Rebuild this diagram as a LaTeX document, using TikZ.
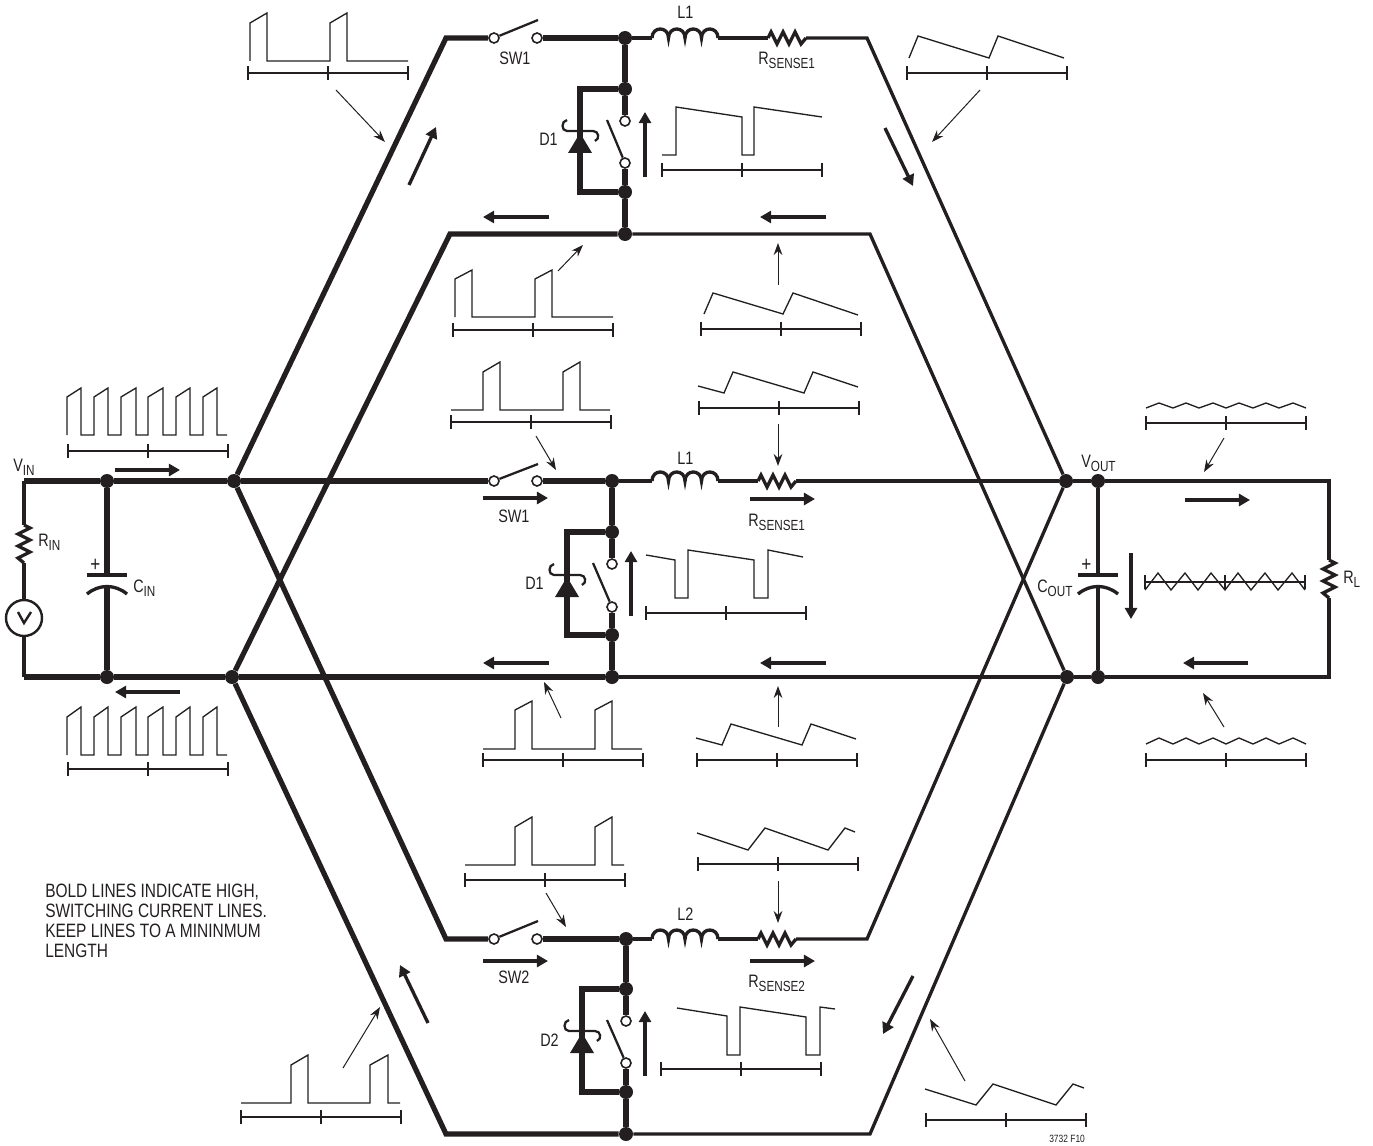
\documentclass[tikz,border=0pt]{standalone}
\usepackage{fontspec}
\setmainfont[FakeStretch=0.8]{Liberation Sans}
\usetikzlibrary{arrows.meta}
\definecolor{ink}{HTML}{231F20}
\tikzstyle{bold} = [line width=3.9pt]
\tikzstyle{wire} = [line width=2.5pt]
\tikzstyle{arm} = [line width=1.7pt]
\tikzstyle{trace} = [line width=1pt]
\tikzstyle{scalebar} = [line width=.9pt]
\tikzstyle{jct} = [circle, fill=ink, inner sep=0pt, minimum size=10.5pt]
\tikzstyle{term} = [circle, draw=ink, fill=white, line width=1.2pt, inner sep=0pt, minimum size=7.5pt]
\tikzstyle{flowline} = [line width=2.5pt, -{Triangle[length=8.3pt,width=9pt]}]
\tikzstyle{leadline} = [line width=.75pt, -{Stealth[length=9pt,width=6.5pt]}]
\tikzstyle{lbl} = [anchor=base west, inner sep=0pt, font={\fontsize{13.5}{15}\selectfont}]
\newcommand{\lowsub}[2]{#1\raisebox{-3pt}{\fontsize{11}{12}\selectfont #2}}
\newcommand{\scopetrace}[3]{
  \begin{scope}[shift={(#1,#2)}]
    \draw[scalebar] (0,-7)--(0,7) (80,-7)--(80,7) (160,-7)--(160,7) (0,0)--(160,0);
    \draw[trace] #3;
  \end{scope}}
\newcommand{\flowarrow}[3]{
  \coordinate (#1a) at (#2);
  \coordinate (#1b) at (#3);
  \draw[flowline] (#1a)--(#1b);}
\newcommand{\leadarrow}[3]{
  \coordinate (#1a) at (#2);
  \coordinate (#1b) at (#3);
  \draw[leadline] (#1a)--(#1b);}
\newcommand{\inductor}[3]{
  \begin{scope}[shift={(#2,#3)}]
    \coordinate (#1a) at (0,0);
    \coordinate (#1b) at (66,0);
    \draw[wire] (0,0) .. controls (0,-12) and (16.5,-12) .. (16.5,0)
      .. controls (16.5,-12) and (33,-12) .. (33,0)
      .. controls (33,-12) and (49.5,-12) .. (49.5,0)
      .. controls (49.5,-12) and (66,-12) .. (66,0);
  \end{scope}}
\newcommand{\resistor}[3]{
  \begin{scope}[shift={(#2,#3)}]
    \coordinate (#1a) at (0,0);
    \coordinate (#1b) at (38,0);
    \draw[wire] (0,0)--(3,-6)--(9,6)--(15,-6)--(21,6)--(27,-6)--(33,6)--(38,0);
  \end{scope}}
\newcommand{\vresistor}[3]{
  \begin{scope}[shift={(#2,#3)}]
    \coordinate (#1a) at (0,0);
    \coordinate (#1b) at (0,38);
    \draw[wire] (0,0)--(6,3)--(-6,9)--(6,15)--(-6,21)--(6,27)--(-6,33)--(0,38);
  \end{scope}}
\newcommand{\diode}[2]{
  \begin{scope}[shift={(#1,#2)}]
    \fill (0,0)--(12,20)--(-12,20)--cycle;
    \draw[arm] (-13,-13) .. controls (-19,-12) and (-19,-2) .. (-13,-2)--(13,-2)
      .. controls (19,-2) and (20,6) .. (15,8);
  \end{scope}}
\newcommand{\capacitor}[3]{
  \begin{scope}[shift={(#2,#3)}]
    \coordinate (#1a) at (0,0);
    \coordinate (#1b) at (0,11.5);
    \draw[wire] (-20,0)--(20,0);
    \draw[wire] (-20,19) .. controls (-8,9) and (8,9) .. (20,19);
  \end{scope}}
\begin{document}
\begin{tikzpicture}[x=.75pt,y=-.75pt,color=ink]
  \useasboundingbox (0,0) rectangle (1373,1145);
  \node[jct](n1) at (234,481){};
  \node[jct](n2) at (232,677){};
  \node[jct](n3) at (1066,481){};
  \node[jct](n4) at (1067,677){};
  \node[jct](j1) at (625,38){};
  \node[jct](j2) at (625,89){};
  \node[jct](j3) at (625,192){};
  \node[jct](j4) at (625,234){};
  \node[jct](j5) at (612,481){};
  \node[jct](j6) at (612,532){};
  \node[jct](j7) at (612,635){};
  \node[jct](j8) at (612,677){};
  \node[jct](j9) at (626,939){};
  \node[jct](j10) at (626,989){};
  \node[jct](j11) at (626,1092){};
  \node[jct](j12) at (626,1134){};
  \node[jct](j13) at (107,481){};
  \node[jct](j14) at (107,677){};
  \node[jct](j15) at (1098,481){};
  \node[jct](j16) at (1098,677){};
  \node[term](s1a) at (494,38){};
  \node[term](s1b) at (537,38){};
  \node[term](s1c) at (625,121){};
  \node[term](s1d) at (625,163){};
  \node[term](s2a) at (494,481){};
  \node[term](s2b) at (537,481){};
  \node[term](s2c) at (612,564){};
  \node[term](s2d) at (612,607){};
  \node[term](s3a) at (494,939){};
  \node[term](s3b) at (537,939){};
  \node[term](s3c) at (626,1021){};
  \node[term](s3d) at (626,1063){};
  \node[circle,draw=ink,line width=1.8pt,inner sep=0pt,minimum size=27pt](vs) at (24,618){};
  \coordinate (c0) at (24,481);
  \coordinate (c1) at (24,677);
  \coordinate (c2) at (446,38);
  \coordinate (c3) at (867,38);
  \coordinate (c4) at (450,234);
  \coordinate (c5) at (870,234);
  \coordinate (c6) at (446,939);
  \coordinate (c7) at (867,939);
  \coordinate (c8) at (446,1134);
  \coordinate (c9) at (870,1134);
  \coordinate (c10) at (1329,481);
  \coordinate (c11) at (1329,677);
  \coordinate (d1a) at (580,89);
  \coordinate (d1b) at (580,192);
  \coordinate (d2a) at (567,532);
  \coordinate (d2b) at (567,635);
  \coordinate (d3a) at (582,989);
  \coordinate (d3b) at (582,1092);
  \coordinate (t1) at (538,20);
  \coordinate (t2) at (607,120);
  \coordinate (t3) at (538,464);
  \coordinate (t4) at (593,563);
  \coordinate (t5) at (538,921);
  \coordinate (t6) at (607,1020);
  \inductor{l1}{652}{38}
  \inductor{l2}{652}{481}
  \inductor{l3}{652}{939}
  \resistor{r1}{768}{38}
  \resistor{r2}{758}{481}
  \resistor{r3}{758}{939}
  \vresistor{rin}{24}{525}
  \vresistor{rl}{1329}{560}
  \capacitor{cin}{107}{575}
  \capacitor{cout}{1098}{575}
  \diode{580}{133}
  \diode{567}{577}
  \diode{582}{1033}
  \draw[bold] (n1)--(c2)--(s1a);
  \draw[bold] (s1b)--(j1);
  \draw[bold] (j1)--(j2);
  \draw[bold] (j2)--(s1c);
  \draw[bold] (s1d)--(j3);
  \draw[bold] (j3)--(j4);
  \draw[bold] (j2)--(d1a)--(d1b)--(j3);
  \draw[bold] (n2)--(c4)--(j4);
  \draw[wire] (j1)--(l1a);
  \draw[wire] (l1b)--(r1a);
  \draw[wire] (r1b)--(c3)--(n3);
  \draw[wire] (j4)--(c5)--(n4);
  \draw[bold] (c0)--(j13);
  \draw[bold] (j13)--(n1);
  \draw[bold] (n1)--(s2a);
  \draw[bold] (s2b)--(j5);
  \draw[bold] (j5)--(j6);
  \draw[bold] (j6)--(s2c);
  \draw[bold] (s2d)--(j7);
  \draw[bold] (j7)--(j8);
  \draw[bold] (j6)--(d2a)--(d2b)--(j7);
  \draw[bold] (c1)--(j14);
  \draw[bold] (j14)--(n2);
  \draw[bold] (n2)--(j8);
  \draw[wire] (j5)--(l2a);
  \draw[wire] (l2b)--(r2a);
  \draw[wire] (r2b)--(n3);
  \draw[wire] (j8)--(n4);
  \draw[wire] (n3)--(j15);
  \draw[wire] (n4)--(j16);
  \draw[wire] (j15)--(c10)--(rla);
  \draw[wire] (rlb)--(c11)--(j16);
  \draw[wire] (j15)--(couta);
  \draw[wire] (coutb)--(j16);
  \draw[bold] (j13)--(cina);
  \draw[bold] (cinb)--(j14);
  \draw[wire] (c0)--(rina);
  \draw[wire] (rinb)--(vs);
  \draw[wire] (vs)--(c1);
  \draw[bold] (n1)--(c6)--(s3a);
  \draw[bold] (s3b)--(j9);
  \draw[bold] (j9)--(j10);
  \draw[bold] (j10)--(s3c);
  \draw[bold] (s3d)--(j11);
  \draw[bold] (j11)--(j12);
  \draw[bold] (j10)--(d3a)--(d3b)--(j11);
  \draw[bold] (n2)--(c8)--(j12);
  \draw[wire] (j9)--(l3a);
  \draw[wire] (l3b)--(r3a);
  \draw[wire] (r3b)--(c7)--(n3);
  \draw[wire] (j12)--(c9)--(n4);
  \draw[arm] (s1a)--(t1);
  \draw[arm] (s1d)--(t2);
  \draw[arm] (s2a)--(t3);
  \draw[arm] (s2d)--(t4);
  \draw[arm] (s3a)--(t5);
  \draw[arm] (s3d)--(t6);
  \draw[line width=1.8pt] (18,612)--(24,623)--(31,612);
  \flowarrow{f1}{115,470}{180,470}
  \flowarrow{f2}{180,692}{115,692}
  \flowarrow{f3}{409,185}{436,127}
  \flowarrow{f4}{549,217}{483,217}
  \flowarrow{f5}{826,217}{760,217}
  \flowarrow{f6}{885,128}{913,186}
  \flowarrow{f7}{645,177}{645,112}
  \flowarrow{f8}{483,498}{548,498}
  \flowarrow{f9}{750,499}{815,499}
  \flowarrow{f10}{631,616}{631,551}
  \flowarrow{f11}{549,663}{483,663}
  \flowarrow{f12}{826,663}{760,663}
  \flowarrow{f13}{1185,500}{1250,500}
  \flowarrow{f14}{1131,553}{1131,619}
  \flowarrow{f15}{1248,663}{1183,663}
  \flowarrow{f16}{483,961}{548,961}
  \flowarrow{f17}{750,961}{815,961}
  \flowarrow{f18}{645,1076}{645,1011}
  \flowarrow{f19}{428,1023}{400,965}
  \flowarrow{f20}{913,976}{883,1034}
  \leadarrow{a1}{336,90}{385,142}
  \leadarrow{a2}{980,90}{932,142}
  \leadarrow{a3}{558,271}{583,245}
  \leadarrow{a4}{778,285}{778,243}
  \leadarrow{a5}{536,436}{556,470}
  \leadarrow{a6}{778,424}{778,466}
  \leadarrow{a7}{1224,438}{1204,472}
  \leadarrow{a8}{561,718}{544,682}
  \leadarrow{a9}{778,727}{778,686}
  \leadarrow{a10}{1224,727}{1203,693}
  \leadarrow{a11}{546,893}{566,927}
  \leadarrow{a12}{778,881}{778,923}
  \leadarrow{a13}{343,1068}{380,1007}
  \leadarrow{a14}{965,1081}{930,1019}
  \scopetrace{248}{73}{(2,-12)--(2,-50)--(19,-60)--(19,-12)--(82,-12)--(82,-50)--(99,-60)--(99,-12)--(160,-12)}
  \scopetrace{907}{73}{(2,-15)--(11,-37)--(82,-15)--(91,-37)--(157,-15)}
  \scopetrace{662}{170}{(0,-15)--(14,-15)--(14,-63)--(80,-53)--(80,-15)--(92,-15)--(92,-63)--(160,-53)}
  \scopetrace{453}{330}{(2,-13)--(2,-51)--(19,-60)--(19,-13)--(82,-13)--(82,-51)--(99,-60)--(99,-13)--(160,-13)}
  \scopetrace{701}{329}{(3,-15)--(12,-36)--(82,-15)--(92,-36)--(157,-14)}
  \scopetrace{451}{422}{(0,-12)--(32,-12)--(32,-50)--(49,-60)--(49,-12)--(112,-12)--(112,-50)--(129,-60)--(129,-12)--(159,-12)}
  \scopetrace{699}{408}{(-1,-22)--(25,-15)--(34,-36)--(105,-15)--(114,-36)--(159,-21)}
  \scopetrace{646}{613}{(0,-58)--(29,-53)--(29,-15)--(42,-15)--(42,-63)--(108,-53)--(108,-15)--(122,-15)--(122,-63)--(157,-56)}
  \scopetrace{68}{451}{(-1,-16)--(-1,-54)--(13,-63)--(13,-16)--(26,-16)--(26,-54)--(40,-63)--(40,-16)--(53,-16)--(53,-54)--(68,-63)--(68,-16)--(80,-16)--(80,-54)--(95,-63)--(95,-16)--(108,-16)--(108,-54)--(122,-63)--(122,-16)--(135,-16)--(135,-54)--(149,-63)--(149,-16)--(159,-16)}
  \scopetrace{68}{769}{(-1,-14)--(-1,-52)--(13,-62)--(13,-14)--(26,-14)--(26,-52)--(40,-62)--(40,-14)--(53,-14)--(53,-52)--(68,-62)--(68,-14)--(80,-14)--(80,-52)--(95,-62)--(95,-14)--(108,-14)--(108,-52)--(122,-62)--(122,-14)--(135,-14)--(135,-52)--(149,-62)--(149,-14)--(159,-14)}
  \scopetrace{1146}{423}{(0,-15)--(13,-20)--(27,-15)--(40,-20)--(53,-15)--(67,-20)--(80,-15)--(93,-20)--(107,-15)--(120,-20)--(133,-15)--(147,-20)--(160,-15)}
  \scopetrace{1145}{582}{(0,8)--(13,-9)--(26,8)--(40,-9)--(53,8)--(66,-9)--(80,8)--(93,-9)--(106,8)--(120,-9)--(133,8)--(147,-9)--(160,8)}
  \scopetrace{1146}{760}{(0,-16)--(13,-22)--(27,-16)--(40,-22)--(53,-16)--(67,-22)--(80,-16)--(93,-22)--(107,-16)--(120,-22)--(133,-16)--(147,-22)--(160,-16)}
  \scopetrace{483}{760}{(0,-11)--(32,-11)--(32,-50)--(49,-59)--(49,-11)--(112,-11)--(112,-50)--(129,-59)--(129,-11)--(159,-11)}
  \scopetrace{697}{760}{(-1,-22)--(25,-15)--(34,-36)--(105,-15)--(114,-36)--(159,-21)}
  \scopetrace{465}{880}{(0,-15)--(50,-15)--(50,-53)--(67,-63)--(67,-15)--(130,-15)--(130,-53)--(147,-63)--(147,-15)--(159,-15)}
  \scopetrace{698}{864}{(-1,-31)--(50,-14)--(67,-36)--(130,-14)--(147,-36)--(157,-32)}
  \scopetrace{661}{1069}{(16,-61)--(66,-53)--(66,-14)--(79,-14)--(79,-62)--(145,-52)--(145,-14)--(159,-14)--(159,-62)--(174,-60)}
  \scopetrace{241}{1117}{(0,-14)--(50,-14)--(50,-52)--(67,-62)--(67,-14)--(129,-14)--(129,-52)--(147,-62)--(147,-14)--(159,-14)}
  \scopetrace{926}{1120}{(-1,-31)--(50,-15)--(67,-36)--(130,-15)--(147,-36)--(158,-32)}
  \node[lbl](sw1) at (499,65){SW1};
  \node[lbl](l1) at (677,19){L1};
  \node[lbl](rs1) at (758,65){\lowsub{R}{SENSE1}};
  \node[lbl](d1) at (539,146){D1};
  \node[lbl](sw2) at (498,522){SW1};
  \node[lbl](l2) at (677,464){L1};
  \node[lbl](rs2) at (748,526){\lowsub{R}{SENSE1}};
  \node[lbl](d2) at (525,589){D1};
  \node[lbl](sw3) at (498,983){SW2};
  \node[lbl](l3) at (677,920){L2};
  \node[lbl](rs3) at (748,987){\lowsub{R}{SENSE2}};
  \node[lbl](d3) at (540,1046){D2};
  \node[lbl](vin) at (13,471){\lowsub{V}{IN}};
  \node[lbl](rinl) at (38,546){\lowsub{R}{IN}};
  \node[lbl](cinl) at (133,592){\lowsub{C}{IN}};
  \node[lbl,font={\fontsize{16}{18}\selectfont}](cinp) at (90,571){+};
  \node[lbl](vout) at (1081,467){\lowsub{V}{OUT}};
  \node[lbl](coutl) at (1037,592){\lowsub{C}{OUT}};
  \node[lbl,font={\fontsize{16}{18}\selectfont}](coutp) at (1081,571){+};
  \node[lbl](rll) at (1343,583){\lowsub{R}{L}};
  \node[lbl,anchor=north west,align=left,font={\fontsize{14.5}{15}\selectfont}](note) at (45,884){BOLD LINES INDICATE HIGH,\\SWITCHING CURRENT LINES.\\KEEP LINES TO A MININMUM\\LENGTH};
  \node[lbl,font={\fontsize{7.9}{9}\selectfont}](fig) at (1049,1142){3732 F10};
\end{tikzpicture}
\end{document}
